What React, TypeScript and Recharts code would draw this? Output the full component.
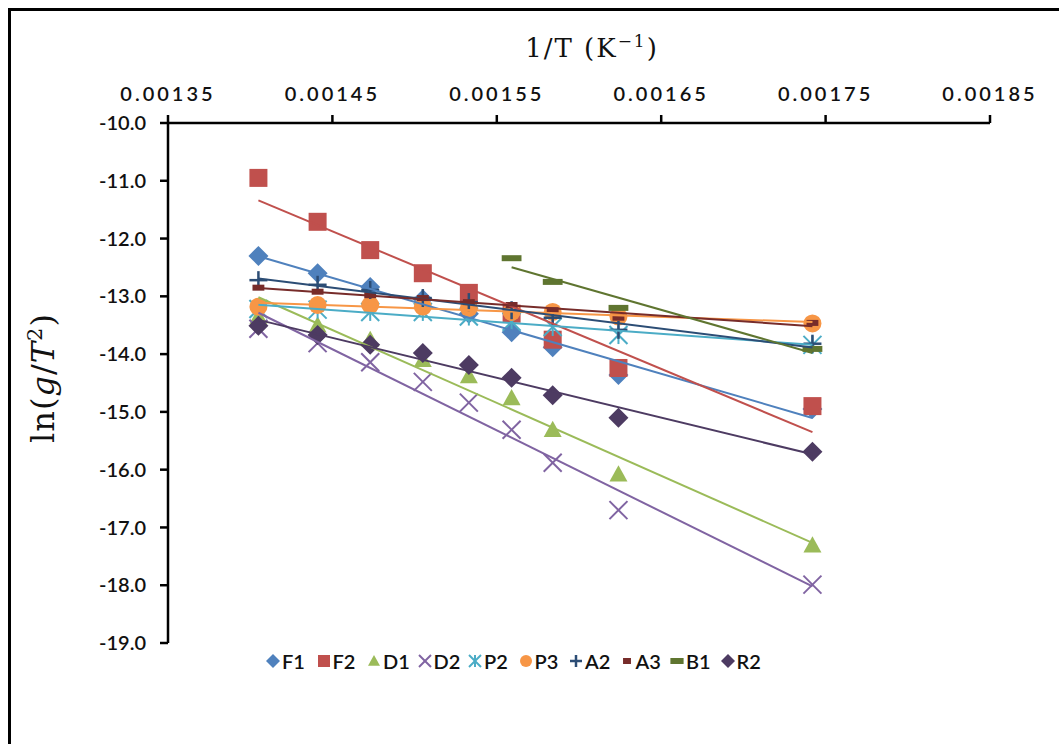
import React from "react";
import { ComposedChart, Scatter, XAxis, YAxis } from "recharts";

// reciprocal temperature of each run (1/K)
const invT = [0.001405, 0.001441, 0.001473, 0.001505, 0.001533, 0.001559, 0.001584, 0.001624, 0.001742];

// ln(g/T^2) for every kinetic model
const f1 = [-12.3, -12.6, -12.84, -13.05, -13.3, -13.62, -13.88, -14.36, -14.95];
const f2 = [-10.95, -11.71, -12.2, -12.6, -12.94, -13.3, -13.75, -14.24, -14.9];
const d1 = [-13.35, -13.5, -13.75, -14.1, -14.38, -14.76, -15.31, -16.08, -17.31];
const d2 = [-13.56, -13.81, -14.14, -14.48, -14.84, -15.31, -15.88, -16.7, -17.99];
const p2 = [-13.22, -13.23, -13.27, -13.27, -13.35, -13.44, -13.53, -13.67, -13.84];
const p3 = [-13.18, -13.15, -13.15, -13.18, -13.2, -13.27, -13.27, -13.35, -13.47];
const a2 = [-12.72, -12.8, -12.89, -13.03, -13.1, -13.24, -13.37, -13.58, -13.82];
const a3 = [-12.85, -12.92, -12.98, -13.03, -13.1, -13.15, -13.24, -13.37, -13.46];
const b1 = [null, null, null, null, null, -12.34, -12.75, -13.2, -13.91];
const r2 = [-13.51, -13.67, -13.84, -13.98, -14.19, -14.41, -14.71, -15.1, -15.69];

const xTicks = [0.00135, 0.00145, 0.00155, 0.00165, 0.00175, 0.00185];
const yTicks = [-19, -18, -17, -16, -15, -14, -13, -12, -11, -10];

type Sym = "diamond" | "square" | "triangle" | "cross" | "star" | "circle" | "plus" | "dash" | "longdash";

const models: { name: string; values: (number | null)[]; color: string; sym: Sym }[] = [
  { name: "F1", values: f1, color: "#4F81BD", sym: "diamond" },
  { name: "F2", values: f2, color: "#C0504D", sym: "square" },
  { name: "D1", values: d1, color: "#9BBB59", sym: "triangle" },
  { name: "D2", values: d2, color: "#8064A2", sym: "cross" },
  { name: "P2", values: p2, color: "#4BACC6", sym: "star" },
  { name: "P3", values: p3, color: "#F79646", sym: "circle" },
  { name: "A2", values: a2, color: "#2C4D75", sym: "plus" },
  { name: "A3", values: a3, color: "#772C2A", sym: "dash" },
  { name: "B1", values: b1, color: "#5F7530", sym: "longdash" },
  { name: "R2", values: r2, color: "#4D3B62", sym: "diamond" },
];

type Pt = { x: number; y: number };

const toPoints = (values: (number | null)[]): Pt[] =>
  values
    .map((y, i) => (y === null ? null : { x: invT[i], y }))
    .filter((p): p is Pt => p !== null);

// least-squares straight line over the series' own x range
const fitLine = (pts: Pt[]): Pt[] => {
  const n = pts.length;
  let sx = 0, sy = 0, sxx = 0, sxy = 0;
  pts.forEach((p) => {
    sx += p.x;
    sy += p.y;
    sxx += p.x * p.x;
    sxy += p.x * p.y;
  });
  const m = (n * sxy - sx * sy) / (n * sxx - sx * sx);
  const b = (sy - m * sx) / n;
  const x0 = pts[0].x;
  const x1 = pts[n - 1].x;
  return [
    { x: x0, y: m * x0 + b },
    { x: x1, y: m * x1 + b },
  ];
};

const drawSymbol = (sym: Sym, cx: number, cy: number, color: string, s: number) => {
  const h = s / 2;
  switch (sym) {
    case "diamond":
      return <polygon points={`${cx},${cy - h - 1} ${cx + h + 1},${cy} ${cx},${cy + h + 1} ${cx - h - 1},${cy}`} fill={color} />;
    case "square":
      return <rect x={cx - h} y={cy - h} width={s} height={s} fill={color} />;
    case "triangle":
      return <polygon points={`${cx},${cy - h} ${cx + h},${cy + h * 0.8} ${cx - h},${cy + h * 0.8}`} fill={color} />;
    case "cross":
      return (
        <g stroke={color} strokeWidth={2}>
          <line x1={cx - h} y1={cy - h} x2={cx + h} y2={cy + h} />
          <line x1={cx - h} y1={cy + h} x2={cx + h} y2={cy - h} />
        </g>
      );
    case "star":
      return (
        <g stroke={color} strokeWidth={2}>
          <line x1={cx - h} y1={cy - h} x2={cx + h} y2={cy + h} />
          <line x1={cx - h} y1={cy + h} x2={cx + h} y2={cy - h} />
          <line x1={cx} y1={cy - h} x2={cx} y2={cy + h} />
        </g>
      );
    case "circle":
      return <circle cx={cx} cy={cy} r={h} fill={color} />;
    case "plus":
      return (
        <g stroke={color} strokeWidth={2.5}>
          <line x1={cx - h} y1={cy} x2={cx + h} y2={cy} />
          <line x1={cx} y1={cy - h} x2={cx} y2={cy + h} />
        </g>
      );
    case "dash":
      return <rect x={cx - s * 0.33} y={cy - 3} width={s * 0.66} height={6} fill={color} />;
    case "longdash":
      return <rect x={cx - s * 0.55} y={cy - 3} width={s * 1.1} height={6} fill={color} />;
  }
};

const Legend = () => (
  <div
    style={{
      position: "absolute",
      left: 266,
      top: 647,
      display: "flex",
      alignItems: "center",
      fontFamily: "Lato, sans-serif",
      fontWeight: 600,
      fontSize: 20,
      color: "#111",
    }}
  >
    {models.map((m) => (
      <div key={m.name} style={{ display: "flex", alignItems: "center", width: 50.5 }}>
        <svg width={14} height={28}>
          {drawSymbol(m.sym, 7, 14, m.color, 12)}
        </svg>
        <span style={{ marginLeft: 2 }}>{m.name}</span>
      </div>
    ))}
  </div>
);

const tickFont = { fill: "#111", fontFamily: "Lato, sans-serif", fontWeight: 600 };

export default function App() {
  const series = models.map((m) => {
    const pts = toPoints(m.values);
    return { ...m, pts, fit: fitLine(pts) };
  });

  return (
    <div style={{ position: "absolute", left: 0, top: 0, width: 1059, height: 744, overflow: "hidden", background: "#fff" }}>
      <div
        style={{
          position: "absolute",
          left: 8,
          top: 8,
          width: 1080,
          height: 760,
          border: "3px solid #000",
        }}
      />
      <ComposedChart
        width={1059}
        height={744}
        margin={{ top: 63, right: 69, bottom: 101, left: 108 }}
        style={{ position: "absolute", left: 0, top: 0 }}
      >
        <XAxis
          type="number"
          dataKey="x"
          orientation="top"
          height={60}
          domain={[0.00135, 0.00185]}
          ticks={xTicks}
          allowDataOverflow
          tickFormatter={(v: number) => v.toFixed(5)}
          axisLine={{ stroke: "#000", strokeWidth: 2.5 }}
          tickLine={{ stroke: "#000", strokeWidth: 2.5 }}
          tickSize={8}
          tickMargin={14}
          tick={{ ...tickFont, fontSize: 20, letterSpacing: 3 }}
        />
        <YAxis
          type="number"
          dataKey="y"
          width={60}
          domain={[-19, -10]}
          ticks={yTicks}
          allowDataOverflow
          tickFormatter={(v: number) => v.toFixed(1)}
          axisLine={{ stroke: "#000", strokeWidth: 2.5 }}
          tickLine={{ stroke: "#000", strokeWidth: 2.5 }}
          tickSize={8}
          tickMargin={14}
          tick={{ ...tickFont, fontSize: 20 }}
        />
        {series.map((s) => (
          <Scatter
            key={s.name}
            name={s.name}
            data={s.pts}
            isAnimationActive={false}
            shape={(p: any) => drawSymbol(s.sym, p.cx, p.cy, s.color, 18)}
          />
        ))}
        {series.map((s) => (
          <Scatter
            key={s.name + "-fit"}
            data={s.fit}
            isAnimationActive={false}
            line={{ stroke: s.color, strokeWidth: 2 }}
            shape={() => <g />}
            legendType="none"
          />
        ))}
      </ComposedChart>
      <svg width={1059} height={744} style={{ position: "absolute", left: 0, top: 0, pointerEvents: "none" }}>
        <text
          x={592}
          y={57}
          textAnchor="middle"
          fontFamily="'DejaVu Serif', serif"
          fontSize={26}
          letterSpacing={2}
          fill="#111"
        >
          1/T  (K<tspan dy={-10} fontSize={17}>−1</tspan>
          <tspan dy={10}>)</tspan>
        </text>
        <text
          transform="translate(54,378) rotate(-90)"
          textAnchor="middle"
          fontFamily="'DejaVu Serif', serif"
          fontSize={32}
          letterSpacing={1}
          fill="#111"
        >
          ln(<tspan fontStyle="italic">g</tspan>/<tspan fontStyle="italic">T</tspan>
          <tspan dy={-12} fontSize={21}>2</tspan>
          <tspan dy={12}>)</tspan>
        </text>
      </svg>
      <Legend />
    </div>
  );
}
